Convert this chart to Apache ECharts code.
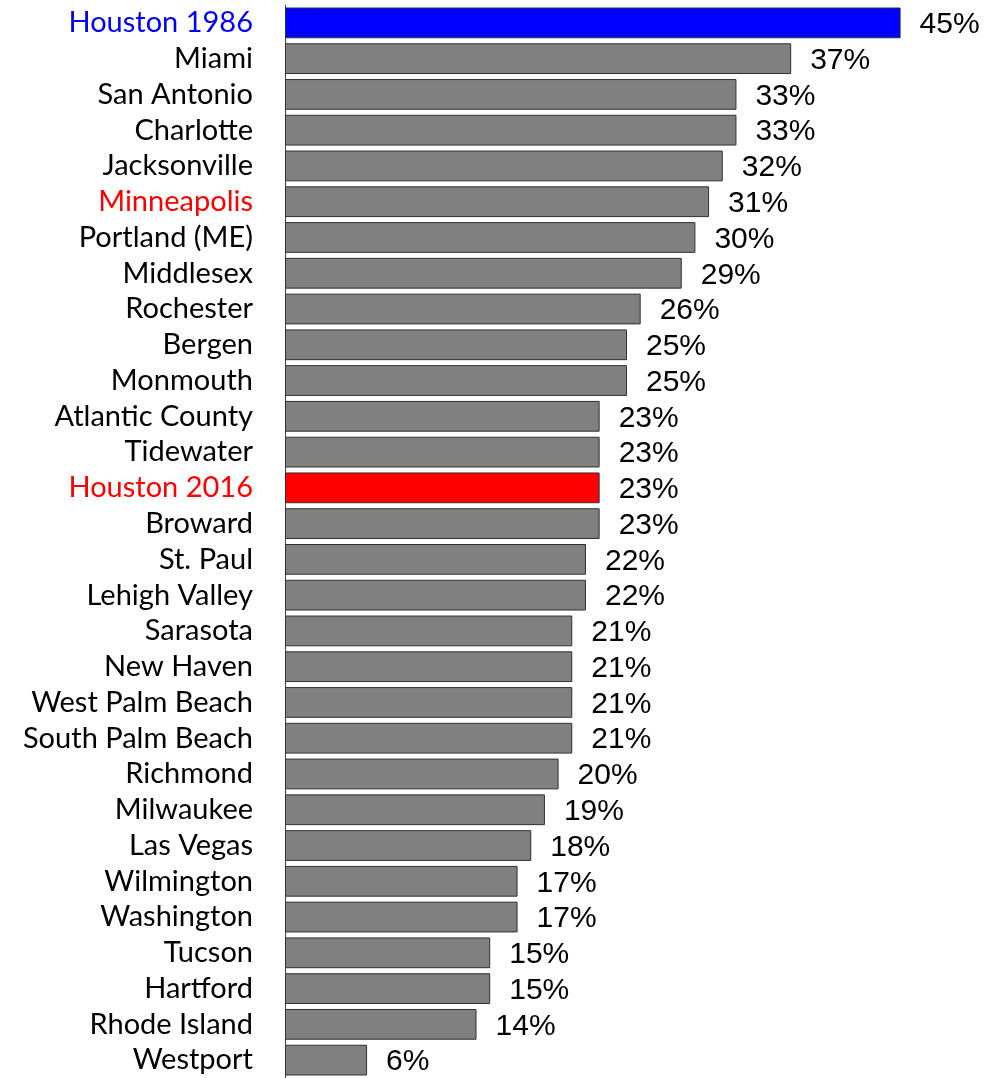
<!DOCTYPE html>
<html>
<head>
<meta charset="utf-8">
<title>Share by city</title>
<script src="https://cdn.jsdelivr.net/npm/echarts@6/dist/echarts.min.js"></script>
<style>
  html, body { margin: 0; padding: 0; background: #ffffff; }
  #chart { width: 986px; height: 1078px; }
</style>
</head>
<body>
<div id="chart"></div>
<script>
// Cities, top to bottom
const cities = [
  'Houston 1986', 'Miami', 'San Antonio', 'Charlotte', 'Jacksonville',
  'Minneapolis', 'Portland (ME)', 'Middlesex', 'Rochester', 'Bergen',
  'Monmouth', 'Atlantic County', 'Tidewater', 'Houston 2016', 'Broward',
  'St. Paul', 'Lehigh Valley', 'Sarasota', 'New Haven', 'West Palm Beach',
  'South Palm Beach', 'Richmond', 'Milwaukee', 'Las Vegas', 'Wilmington',
  'Washington', 'Tucson', 'Hartford', 'Rhode Island', 'Westport'
];

// Percentages for each city
const shares = [
  45, 37, 33, 33, 32,
  31, 30, 29, 26, 25,
  25, 23, 23, 23, 23,
  22, 22, 21, 21, 21,
  21, 20, 19, 18, 17,
  17, 15, 15, 14, 6
];

// Highlighted bars and labels
const barColors = { 'Houston 1986': '#0000ff', 'Houston 2016': '#ff0000' };
const labelColors = { 'Houston 1986': '#0000ff', 'Minneapolis': '#ff0000', 'Houston 2016': '#ff0000' };

const chart = echarts.init(document.getElementById('chart'), null, { renderer: 'canvas' });

chart.setOption({
  animation: false,
  backgroundColor: '#ffffff',
  grid: { left: 285, right: 17, top: 5, bottom: 0, containLabel: false },
  xAxis: {
    type: 'value',
    min: 0,
    max: 50,
    show: false,
    splitLine: { show: false }
  },
  yAxis: {
    type: 'category',
    inverse: true,
    data: cities,
    axisLine: { show: true, lineStyle: { color: '#404040', width: 1 } },
    axisTick: { show: false },
    axisLabel: {
      interval: 0,
      hideOverlap: false,
      margin: 32,
      fontFamily: 'Lato, "Open Sans", sans-serif',
      fontSize: 29,
      color: function (value) { return labelColors[value] || '#000000'; }
    }
  },
  series: [{
    type: 'bar',
    barCategoryGap: '14%',
    data: shares.map(function (v, i) {
      return {
        value: v,
        itemStyle: { color: barColors[cities[i]] || '#808080' }
      };
    }),
    itemStyle: { borderColor: '#303030', borderWidth: 1 },
    label: {
      show: true,
      position: 'right',
      distance: 19,
      offset: [0, 2],
      formatter: '{c}%',
      fontFamily: '"Liberation Sans", Arial, sans-serif',
      fontSize: 30,
      color: '#000000'
    }
  }]
});
</script>
</body>
</html>
